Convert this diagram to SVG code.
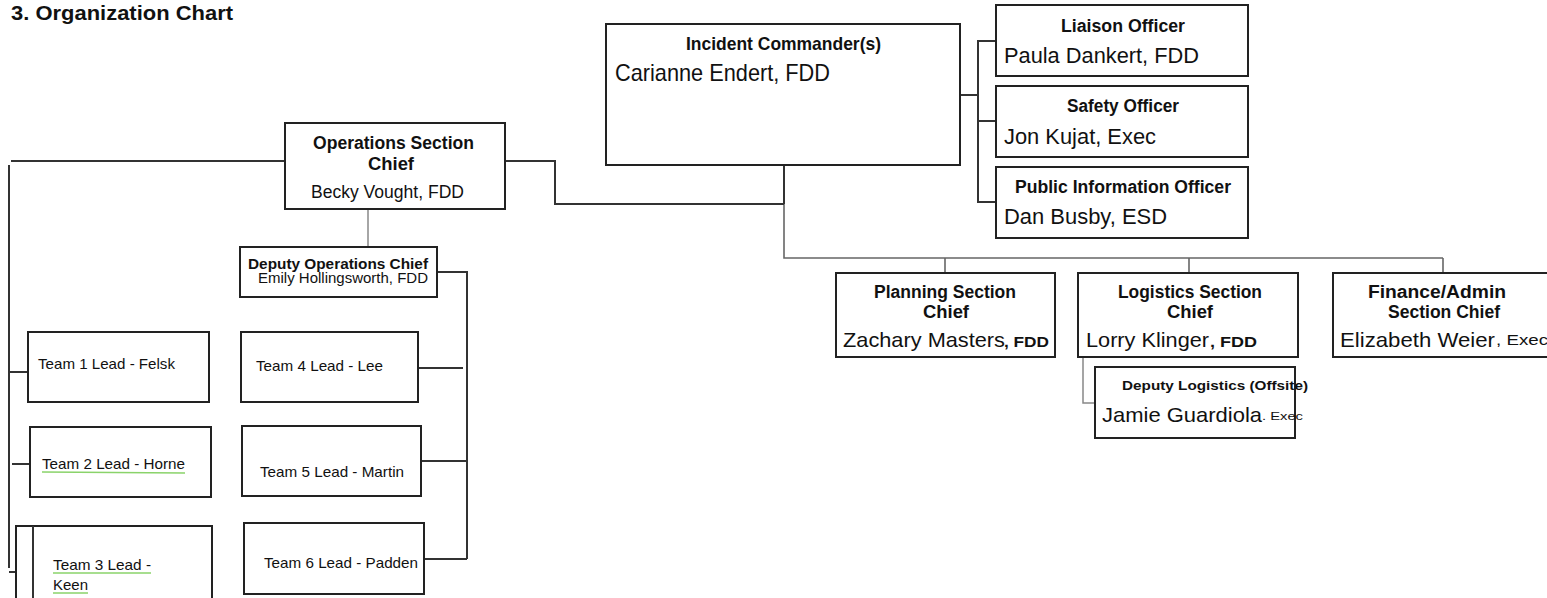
<svg xmlns="http://www.w3.org/2000/svg" width="1547" height="598" viewBox="0 0 1547 598">
<style>
.box{fill:#fff;stroke:#222;stroke-width:2}
.ln{fill:none;stroke:#333;stroke-width:2}
.lg{fill:none;stroke:#666;stroke-width:1.6}
.ll{fill:none;stroke:#888;stroke-width:1.5}
text{font-family:"Liberation Sans",Arial,sans-serif;fill:#111}
.h{font-weight:bold;font-size:17.5px}
.ho{font-weight:bold;font-size:18px}
.hs{font-weight:bold;font-size:13px}
.n{font-size:22px}
.n2{font-size:21px}
.t{font-size:14.5px}
.sm{font-size:14px;font-weight:bold}
.gu{stroke:#8ad36a;stroke-width:1.5;fill:none}
</style>
<rect width="1547" height="598" fill="#fff"/>
<text x="11" y="20" font-weight="bold" font-size="21" textLength="222" lengthAdjust="spacingAndGlyphs">3. Organization Chart</text>

<g id="connectors">
  <polyline class="ln" points="960,95 978,95"/>
  <polyline class="ln" points="996,41 978,41 978,202 996,202"/>
  <polyline class="ln" points="978,121 996,121"/>
  <polyline class="ln" points="784,165 784,204"/>
  <polyline class="lg" points="784,204 784,258 1443,258"/>
  <polyline class="lg" points="945,258 945,273"/>
  <polyline class="lg" points="1189,258 1189,273"/>
  <polyline class="lg" points="1443,258 1443,273"/>
  <polyline class="ln" points="784,204 555,204 555,161 505,161"/>
  <polyline class="ll" points="1083,358 1083,403 1095,403"/>
  <polyline class="ll" points="368,209 368,247"/>
  <polyline class="ln" points="285,161 11,161"/>
  <polyline class="ln" points="9,165 9,568"/>
  <polyline class="ln" points="9,372 32,372"/>
  <polyline class="ln" points="12,464 29,464"/>
  <polyline class="ln" points="9,572 33,572"/>
  <polyline class="ln" points="437,272 467,272 467,559"/>
  <polyline class="ln" points="418,368 463,368"/>
  <polyline class="ln" points="421,461 467,461"/>
  <polyline class="ln" points="424,559 467,559"/>
</g>

<g id="incident-commander">
  <rect class="box" x="606" y="24" width="354" height="141"/>
  <text x="686" y="50" font-weight="bold" font-size="19" textLength="195" lengthAdjust="spacingAndGlyphs">Incident Commander(s)</text>
  <text x="615" y="81" font-size="24" textLength="215" lengthAdjust="spacingAndGlyphs">Carianne Endert, FDD</text>
</g>
<g id="liaison-officer">
  <rect class="box" x="996" y="5" width="252" height="71"/>
  <text class="ho" x="1061" y="32" textLength="124" lengthAdjust="spacingAndGlyphs">Liaison Officer</text>
  <text class="n" x="1004" y="63" textLength="195" lengthAdjust="spacingAndGlyphs">Paula Dankert, FDD</text>
</g>
<g id="safety-officer">
  <rect class="box" x="996" y="86" width="252" height="71"/>
  <text class="ho" x="1067" y="112" textLength="112" lengthAdjust="spacingAndGlyphs">Safety Officer</text>
  <text class="n" x="1004" y="144" textLength="152" lengthAdjust="spacingAndGlyphs">Jon Kujat, Exec</text>
</g>
<g id="public-information-officer">
  <rect class="box" x="996" y="167" width="252" height="71"/>
  <text class="ho" x="1015" y="193" textLength="216" lengthAdjust="spacingAndGlyphs">Public Information Officer</text>
  <text class="n" x="1004" y="224" textLength="163" lengthAdjust="spacingAndGlyphs">Dan Busby, ESD</text>
</g>

<g id="operations-chief">
  <rect class="box" x="285" y="123" width="220" height="86"/>
  <text class="h" x="313" y="149" textLength="161" lengthAdjust="spacingAndGlyphs">Operations Section</text>
  <text class="h" x="368" y="170" textLength="46" lengthAdjust="spacingAndGlyphs">Chief</text>
  <text x="311" y="198" font-size="17.5" textLength="153" lengthAdjust="spacingAndGlyphs">Becky Vought, FDD</text>
</g>
<g id="deputy-operations">
  <rect class="box" x="240" y="247" width="197" height="50"/>
  <text x="248" y="269" font-weight="bold" font-size="14.5" textLength="180" lengthAdjust="spacingAndGlyphs">Deputy Operations Chief</text>
  <text x="258" y="283" font-size="14" textLength="170" lengthAdjust="spacingAndGlyphs">Emily Hollingsworth, FDD</text>
</g>

<g id="team-1">
  <rect class="box" x="28" y="332" width="181" height="70"/>
  <text class="t" x="38" y="369" textLength="137" lengthAdjust="spacingAndGlyphs">Team 1 Lead - Felsk</text>
</g>
<g id="team-2">
  <rect class="box" x="30" y="427" width="181" height="70"/>
  <text class="t" x="42" y="469" textLength="143" lengthAdjust="spacingAndGlyphs">Team 2 Lead - Horne</text>
  <path class="gu" d="M42,472 L185,473"/>
</g>
<g id="team-3">
  <rect class="box" x="16" y="526" width="196" height="80"/>
  <line class="ln" x1="33" y1="526" x2="33" y2="600"/>
  <text class="t" x="53" y="570" textLength="98" lengthAdjust="spacingAndGlyphs">Team 3 Lead -</text>
  <path class="gu" d="M53,573 L151,573"/>
  <text class="t" x="53" y="590" textLength="35" lengthAdjust="spacingAndGlyphs">Keen</text>
  <path class="gu" d="M53,593 L88,593"/>
</g>
<g id="team-4">
  <rect class="box" x="241" y="332" width="177" height="70"/>
  <text class="t" x="256" y="371" textLength="127" lengthAdjust="spacingAndGlyphs">Team 4 Lead - Lee</text>
</g>
<g id="team-5">
  <rect class="box" x="242" y="426" width="179" height="70"/>
  <text class="t" x="260" y="477" textLength="144" lengthAdjust="spacingAndGlyphs">Team 5 Lead - Martin</text>
</g>
<g id="team-6">
  <rect class="box" x="244" y="523" width="180" height="71"/>
  <text class="t" x="264" y="568" textLength="154" lengthAdjust="spacingAndGlyphs">Team 6 Lead - Padden</text>
</g>

<g id="planning-chief">
  <rect class="box" x="836" y="273" width="219" height="84"/>
  <text class="h" x="874" y="298" textLength="142" lengthAdjust="spacingAndGlyphs">Planning Section</text>
  <text class="h" x="923" y="318" textLength="46" lengthAdjust="spacingAndGlyphs">Chief</text>
  <text class="n2" x="843" y="347" textLength="162" lengthAdjust="spacingAndGlyphs">Zachary Masters</text>
  <text class="sm" x="1004" y="347" textLength="45" lengthAdjust="spacingAndGlyphs">, FDD</text>
</g>
<g id="logistics-chief">
  <rect class="box" x="1078" y="273" width="220" height="84"/>
  <text class="h" x="1118" y="298" textLength="144" lengthAdjust="spacingAndGlyphs">Logistics Section</text>
  <text class="h" x="1167" y="318" textLength="46" lengthAdjust="spacingAndGlyphs">Chief</text>
  <text class="n2" x="1086" y="347" textLength="123" lengthAdjust="spacingAndGlyphs">Lorry Klinger</text>
  <text class="sm" x="1210" y="347" textLength="47" lengthAdjust="spacingAndGlyphs">, FDD</text>
</g>
<g id="finance-admin-chief">
  <rect class="box" x="1333" y="273" width="220" height="84"/>
  <text class="h" x="1368" y="298" textLength="138" lengthAdjust="spacingAndGlyphs">Finance/Admin</text>
  <text class="h" x="1388" y="318" textLength="112" lengthAdjust="spacingAndGlyphs">Section Chief</text>
  <text class="n2" x="1340" y="347" textLength="155" lengthAdjust="spacingAndGlyphs">Elizabeth Weier</text>
  <text x="1496" y="345" font-size="15" textLength="52" lengthAdjust="spacingAndGlyphs">, Exec</text>
</g>
<g id="deputy-logistics">
  <rect class="box" x="1095" y="367" width="200" height="71"/>
  <text class="hs" x="1122" y="390" textLength="186" lengthAdjust="spacingAndGlyphs">Deputy Logistics (Offsite)</text>
  <text class="n2" x="1102" y="422" textLength="160" lengthAdjust="spacingAndGlyphs">Jamie Guardiola</text>
  <text x="1262" y="420" font-size="11" textLength="41" lengthAdjust="spacingAndGlyphs">. Exec</text>
</g>
</svg>
